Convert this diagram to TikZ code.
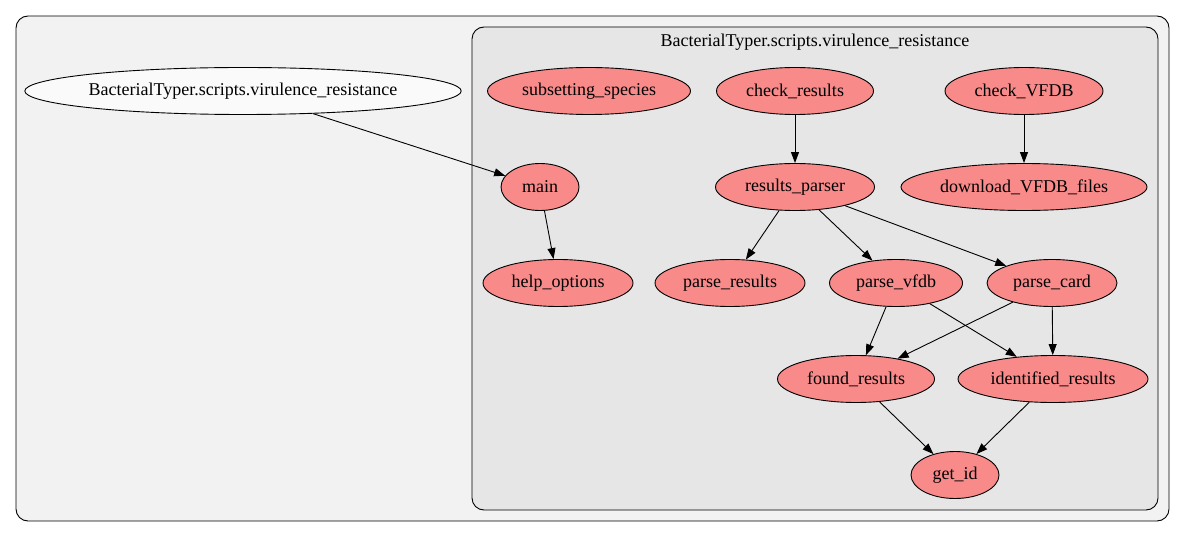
\documentclass[tikz,border=0pt]{standalone}
\usepackage{fontspec}
\setmainfont{Liberation Serif}
\usetikzlibrary{shapes.geometric,arrows.meta}
\definecolor{pkgouter}{HTML}{F2F2F2}
\definecolor{pkginner}{HTML}{E6E6E6}
\definecolor{modfill}{HTML}{FAFAFA}
\definecolor{funcfill}{HTML}{F88A8A}
\begin{document}
\begin{tikzpicture}
  [x=1pt, y=-1pt, line width=0.9pt,
   every node/.style={draw, ellipse, inner sep=0pt, minimum height=47pt, font=\fontsize{18}{20}\selectfont},
   func/.style={fill=funcfill},
   module/.style={fill=modfill},
   call/.style={-{Triangle[length=11pt,width=8pt]}}]
  \useasboundingbox (0,0) rectangle (1185,537);
  \draw[fill=pkgouter, rounded corners=12pt] (16,16) rectangle (1169,521);
  \draw[fill=pkginner, rounded corners=12pt] (472,27) rectangle (1158,510);
  \node[draw=none, ellipse=false, rectangle, minimum height=0pt] (pkglabel) at (815,42) {BacterialTyper.scripts.virulence\_resistance};

  \node[module, minimum width=436pt] (vr) at (243,91) {BacterialTyper.scripts.virulence\_resistance};
  \node[func, minimum width=203pt] (subset) at (589,91) {subsetting\_species};
  \node[func, minimum width=157pt] (checkres) at (795,91) {check\_results};
  \node[func, minimum width=158pt] (checkvfdb) at (1024,91) {check\_VFDB};
  \node[func, minimum width=78pt] (main) at (540,187) {main};
  \node[func, minimum width=159pt] (parser) at (795,187) {results\_parser};
  \node[func, minimum width=246pt] (download) at (1024,187) {download\_VFDB\_files};
  \node[func, minimum width=150pt] (help) at (558,283) {help\_options};
  \node[func, minimum width=150pt] (parseres) at (730,283) {parse\_results};
  \node[func, minimum width=133pt] (vfdb) at (896,283) {parse\_vfdb};
  \node[func, minimum width=130pt] (card) at (1052,283) {parse\_card};
  \node[func, minimum width=157pt] (found) at (856,379) {found\_results};
  \node[func, minimum width=190pt] (ident) at (1053,379) {identified\_results};
  \node[func, minimum width=88pt] (getid) at (955,475) {get\_id};

  \draw[call] (vr) -- (main);
  \draw[call] (main) -- (help);
  \draw[call] (checkres) -- (parser);
  \draw[call] (checkvfdb) -- (download);
  \draw[call] (parser) -- (parseres);
  \draw[call] (parser) -- (vfdb);
  \draw[call] (parser) -- (card);
  \draw[call] (vfdb) -- (found);
  \draw[call] (vfdb) -- (ident);
  \draw[call] (card) -- (found);
  \draw[call] (card) -- (ident);
  \draw[call] (found) -- (getid);
  \draw[call] (ident) -- (getid);
\end{tikzpicture}
\end{document}
